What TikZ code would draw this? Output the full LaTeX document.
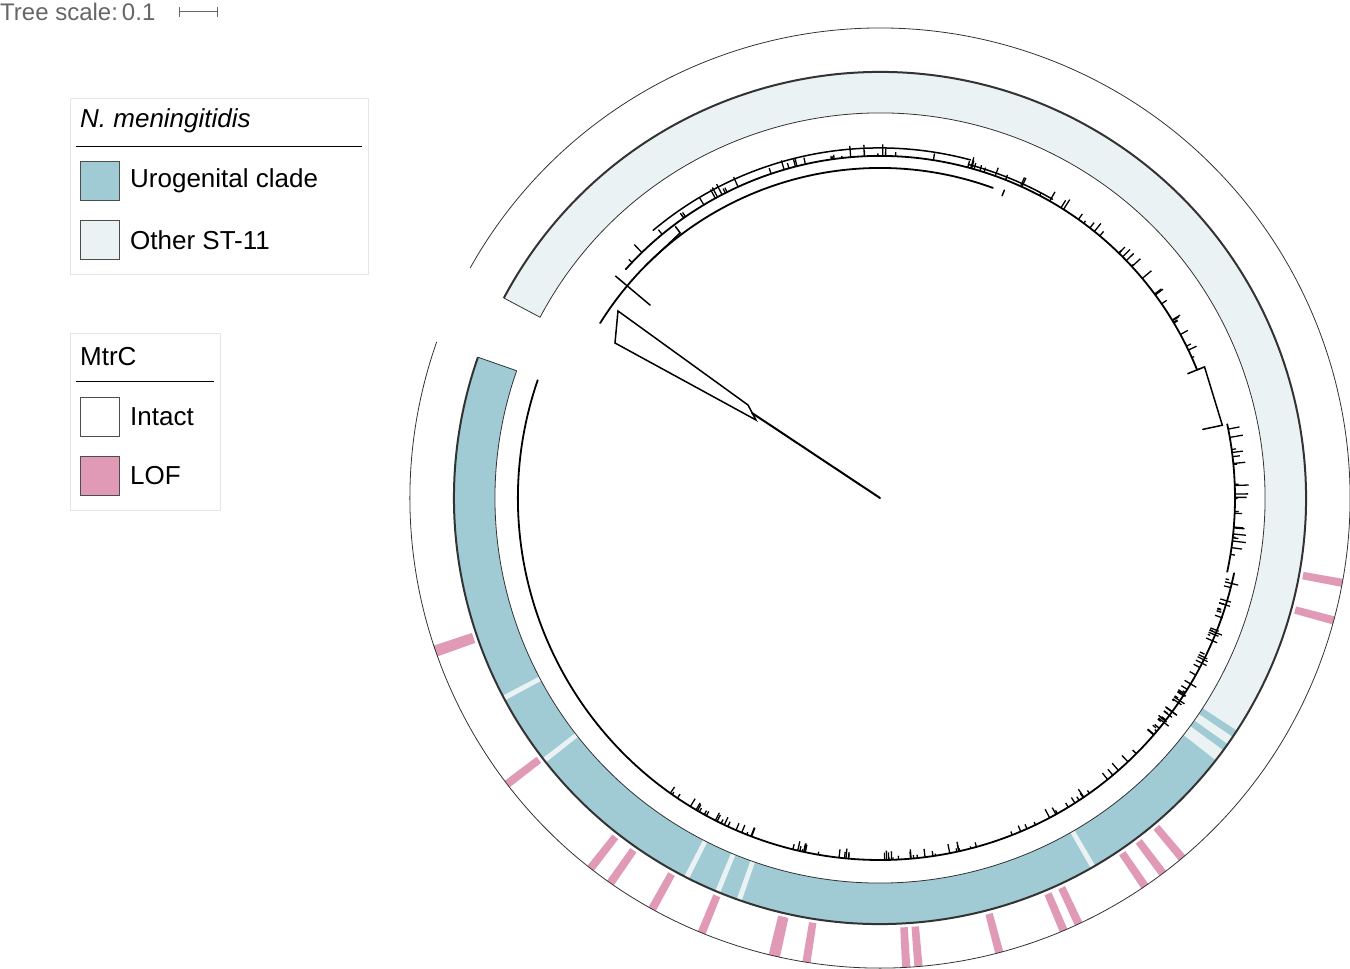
\documentclass[tikz,border=0pt]{standalone}
\usepackage{fontspec}
\setmainfont{Liberation Sans}
\definecolor{uro}{HTML}{A0CBD5}
\definecolor{oth}{HTML}{EAF2F3}
\definecolor{lof}{HTML}{E09AB5}
\newcommand\annul[5]{\fill[#1] (#2:#4pt) arc[start angle=#2,end angle=#3,radius=#4pt] -- (#3:#5pt) arc[start angle=#3,end angle=#2,radius=#5pt] -- cycle;}
\begin{document}
\begin{tikzpicture}[x=1pt,y=1pt,
  swatch/.style={draw=black!70,line width=0.8,minimum width=39,minimum height=39,inner sep=0,anchor=north west},
  legtxt/.style={font=\fontsize{26}{30}\selectfont,anchor=west,inner sep=0},
  legbox/.style={draw=black!10,line width=0.8},
  tree/.style={line width=2,line cap=round}]
\useasboundingbox (-880,-471) rectangle (470,498);
\coordinate (c) at (0,0);
% tree scale
\node[anchor=west,inner sep=0,text=black!60,font=\fontsize{24}{26}\selectfont] (ts) at (-880,486) {Tree scale:\,0.1};
\draw[black!60,line width=1] (-700,486) -- (-662,486) (-700,481) -- (-700,491) (-662,481) -- (-662,491);
% legend 1
\draw[legbox] (-810,400) rectangle (-512,224);
\node[legtxt,font=\fontsize{26}{30}\selectfont\itshape] (t1) at (-800,377) {N. meningitidis};
\draw[line width=1] (-804,351) -- (-518,351);
\node[swatch,fill=uro] (s1) at (-800,337) {};
\node[legtxt] (l1) at (-750,317) {Urogenital clade};
\node[swatch,fill=oth] (s2) at (-800,278) {};
\node[legtxt] (l2) at (-750,258) {Other ST-11};
% legend 2
\draw[legbox] (-810,165) rectangle (-660,-12);
\node[legtxt] (t2) at (-800,141) {MtrC};
\draw[line width=1] (-804,116) -- (-666,116);
\node[swatch,fill=white] (s3) at (-800,101) {};
\node[legtxt] (l3) at (-750,81) {Intact};
\node[swatch,fill=lof] (s4) at (-800,42) {};
\node[legtxt] (l4) at (-750,22) {LOF};
% clade ring
\annul{oth}{-38}{152}{385}{426}
\annul{uro}{-199.3}{-38}{385}{426}
\foreach \a in {-33.6,-35.8}{\annul{uro}{\a-0.5}{\a+0.5}{385}{426}}
\foreach \a in {-60,-109.3,-112.4,-117,-142,-152}{\annul{oth}{\a-0.35}{\a+0.35}{385}{426}}
\draw[black!80,line width=2] (152:426pt) arc[start angle=152,end angle=-199.3,radius=426pt];
\draw[black!80,line width=0.8] (152:385pt) arc[start angle=152,end angle=-199.3,radius=385pt];
\draw[black!80,line width=0.8] (152:385pt) -- (152:426pt) (160.7:385pt) -- (160.7:426pt);
% LOF stripes
\foreach \a in {-10.4,-15.1,-161,-142.5,-128,-125,-119,-112.3,-103,-99,-86.8,-85.3,-75.3,-67,-65,-55.7,-53,-50}{\annul{lof}{\a-0.5}{\a+0.5}{430}{470}}
\foreach \a in {-161,-103}{\annul{lof}{\a-0.7}{\a+0.7}{430}{470}}
\draw[black!80,line width=0.8] (160.6:470pt) arc[start angle=160.6,end angle=510.7,radius=470pt];
% tree
\coordinate (r0) at (c);
\coordinate (r1) at (-128,85);
\draw[tree] (r0) -- (r1);
\draw[tree,line width=1.5] (-124,78) -- (-265,155) -- (-262,187) -- (-132,93) -- cycle;
\draw[tree,line width=1.8] (161:362pt) arc[start angle=161,end angle=348,radius=362pt];
\draw[tree,line width=1.8] (-12:355pt) arc[start angle=-12,end angle=12,radius=355pt];
\draw[tree,line width=1.5] (12:330pt) -- (12:350pt) -- (22:350pt) -- (22:332pt);
\draw[tree,line width=1.8] (22:342pt) arc[start angle=22,end angle=138,radius=342pt];
\draw[tree,line width=1.8] (70:330pt) arc[start angle=70,end angle=148,radius=330pt];
\draw[tree,line width=1.5] (68:326pt) -- (68:332pt);
\draw[tree,line width=1.5] (140:300pt) -- (140:345pt) (135:330pt) -- (127:332pt) -- (127:340pt);
\draw[tree,line width=1.5] (75:350pt) arc[start angle=75,end angle=130,radius=352pt];
\draw[tree,line width=1.5] (60:345pt) arc[start angle=60,end angle=75,radius=348pt];
\pgfmathsetseed{7}
\foreach \i in {1,...,60}{
  \pgfmathsetmacro\a{-40+52*rnd}
  \pgfmathsetmacro\la{2+12*rnd}
  \draw[line width=1.3] (\a:355pt) -- (\a:355pt+\la pt);
}
\foreach \i in {1,...,70}{
  \pgfmathsetmacro\a{22+116*rnd}
  \pgfmathsetmacro\la{2+10*rnd}
  \draw[line width=1.3] (\a:342pt) -- (\a:342pt+\la pt);
}
\foreach \i in {1,...,80}{
  \pgfmathsetmacro\a{-130+100*rnd}
  \pgfmathsetmacro\la{2+8*rnd}
  \draw[line width=1.3] (\a:362pt) -- (\a:362pt-\la pt);
}
\end{tikzpicture}
\end{document}
